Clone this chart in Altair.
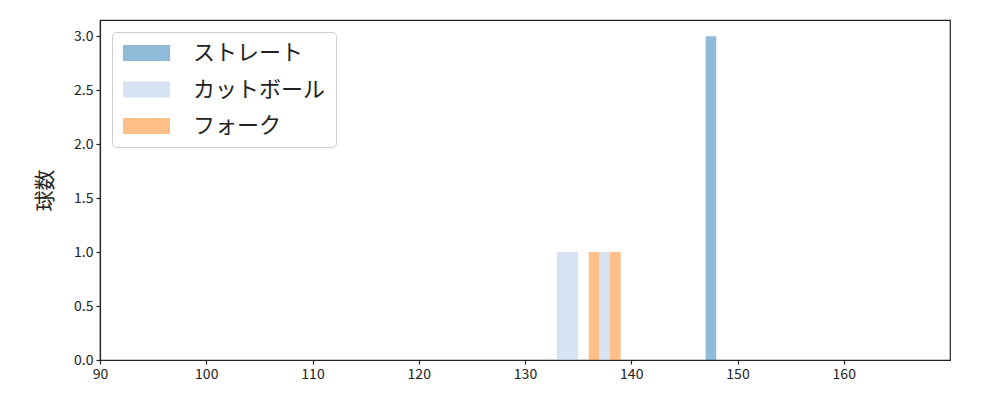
import altair as alt
import pandas as pd

pitch_types = ["ストレート", "カットボール", "フォーク"]
colors = ["#1f77b4", "#aec7e8", "#ff7f0e"]

# visible histogram bins (speed km/h) and counts
bin_type = ["ストレート", "カットボール", "カットボール", "フォーク", "フォーク"]
bin_start = [147.0, 133.0, 137.0, 136.0, 138.0]
bin_end = [148.0, 135.0, 138.0, 137.0, 139.0]
counts = [3, 1, 1, 1, 1]

df = pd.DataFrame({"type": bin_type, "x0": bin_start, "x1": bin_end, "count": counts})

FONT = "Noto Sans CJK JP"

axis_common = dict(grid=False, labelFontSize=14, tickSize=4, labelPadding=3, labelFlush=False,
                   domainColor="#222222", tickColor="#222222", labelColor="#222222",
                   labelFont=FONT)

chart = alt.Chart(df).mark_bar(opacity=0.5, stroke=None).encode(
    x=alt.X("x0:Q", scale=alt.Scale(domain=[90, 170], nice=False, zero=False),
            axis=alt.Axis(values=[90, 100, 110, 120, 130, 140, 150, 160], title=None,
                          **axis_common)),
    x2="x1:Q",
    y=alt.Y("count:Q", scale=alt.Scale(domain=[0, 3.15], nice=False),
            axis=alt.Axis(values=[0, 0.5, 1.0, 1.5, 2.0, 2.5, 3.0], format=".1f",
                          title="球数", titleFontSize=21, titleFont=FONT, titleFontWeight="normal",
                          titleColor="#222222", titlePadding=18, **axis_common)),
    y2=alt.datum(0),
    color=alt.Color("type:N", scale=alt.Scale(domain=pitch_types, range=colors),
                    legend=alt.Legend(title=None, orient="none", legendX=12, legendY=12,
                                      symbolType="M-1,-0.8L3.7,-0.8L3.7,0.8L-1,0.8Z",
                                      symbolSize=400, symbolOpacity=0.5, symbolStrokeWidth=0,
                                      labelFontSize=22, labelFont=FONT, labelColor="#222222",
                                      labelOffset=49, rowPadding=14.5, padding=10,
                                      strokeColor="#cccccc", cornerRadius=4, fillColor="white")),
    order=alt.Order("x0:Q"),
).properties(
    width=850, height=340,
    autosize=alt.AutoSizeParams(type="none"),
    padding={"left": 92, "top": 12, "right": 30, "bottom": 30},
).configure_view(stroke="#222222", strokeWidth=1.2).configure_axis(domainWidth=1.2, tickWidth=1.2)

chart.save("out.html", embed_options={"renderer": "svg", "actions": False})
